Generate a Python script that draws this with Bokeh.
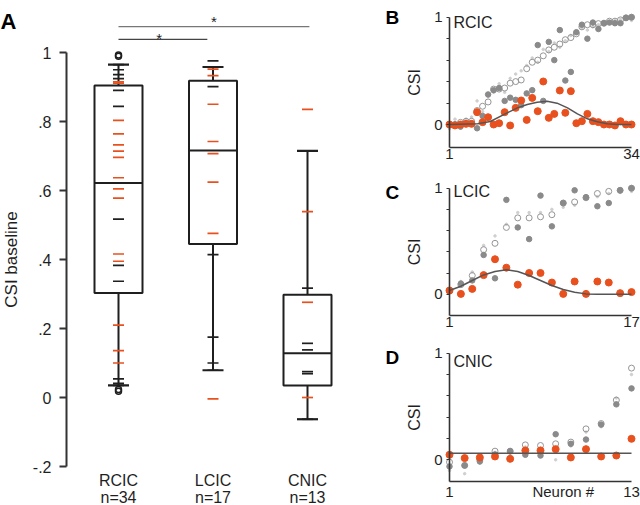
from bokeh.plotting import figure
from bokeh.models import ColumnDataSource, FixedTicker, Range1d
from bokeh.layouts import row, column
from bokeh.embed import file_html
from bokeh.resources import INLINE
from bokeh.core.properties import value

FONT = "Liberation Sans"
ORANGE = "#e8501e"
INK = "#1f1f1f"
AXIS = "#333333"
GRAY_FILL = "#8a8a8a"
GRAY_OPEN = "#959595"
GRAY_LIGHT = "#cfcfcf"
FIT = "#555555"

# ---------------- Panel A data ----------------
groups = ["RCIC", "LCIC", "CNIC"]
group_n = ["n=34", "n=17", "n=13"]
box_q1 = [0.303, 0.445, 0.035]
box_med = [0.622, 0.716, 0.128]
box_q3 = [0.904, 0.918, 0.298]
whisk_hi = [0.965, 0.958, 0.715]
whisk_lo = [0.035, 0.079, -0.063]

rcic_vals = [0.965, 0.950, 0.936, 0.924, 0.915, 0.911, 0.890, 0.844, 0.803, 0.764,
             0.732, 0.714, 0.696, 0.637, 0.605, 0.578, 0.517, 0.416, 0.395, 0.383,
             0.337, 0.210, 0.136, 0.100, 0.054, 0.041, 0.035]
rcic_kind = ["k", "k", "k", "k", "o", "o", "k", "k", "o", "o",
             "o", "o", "o", "o", "o", "o", "k", "o", "o", "k",
             "k", "o", "o", "o", "k", "k", "k"]
rcic_outliers = [0.993, 0.989, 0.023, 0.018]

lcic_vals = [0.976, 0.958, 0.952, 0.933, 0.901, 0.850, 0.742, 0.707, 0.624, 0.476,
             0.414, 0.175, 0.100, 0.079, -0.004]
lcic_kind = ["k", "k", "o", "o", "k", "o", "o", "o", "o", "o",
             "k", "k", "k", "k", "o"]

cnic_vals = [0.835, 0.715, 0.539, 0.317, 0.276, 0.157, 0.138, 0.075, 0.069, 0.000, -0.063]
cnic_kind = ["o", "k", "o", "k", "o", "k", "k", "k", "k", "o", "k"]

a_ticks = [-0.2, 0, 0.2, 0.4, 0.6, 0.8, 1]
a_tick_labels = ["-.2", "0", ".2", ".4", ".6", ".8", "1"]

sig_pairs = [(0, 1), (0, 2)]
sig_y = [1.038, 1.075]
star_y = [1.053, 1.102]

# ---------------- Panels B-D data ----------------
b_orange = [0.0, -0.009, 0.0, 0.006, 0.006, 0.115, 0.022, 0.068, 0.0, 0.012,
            0.115, -0.009, 0.155, 0.224, 0.043, 0.248, 0.124, 0.401, 0.062, 0.099,
            0.317, 0.109, 0.311, 0.012, 0.031, 0.099, 0.031, 0.022, 0.0, 0.0,
            -0.009, 0.031, 0.0, 0.0]
b_open = [0.0, 0.0, 0.02, 0.03, 0.03, 0.13, 0.17, 0.21, 0.33, 0.33,
          0.34, 0.385, 0.40, 0.415, 0.52, 0.58, 0.60, 0.64, 0.695, 0.72,
          0.75, 0.79, 0.81, 0.845, 0.91, 0.93, 0.93, 0.94, 0.944, 0.963,
          0.963, 0.975, 0.994, 1.0]
b_filled = [0.0, 0.0, -0.02, 0.01, 0.01, -0.035, 0.08, 0.28, 0.32, 0.34,
            0.22, 0.25, 0.23, 0.18, 0.29, 0.32, 0.74, 0.22, 0.77, 0.60,
            0.88, 0.41, 0.49, 0.86, 0.93, 0.80, 0.95, 0.89, 0.944, 0.95,
            0.944, 0.944, 0.994, 1.0]
b_light = [-0.04, 0.05, -0.03, 0.05, 0.07, 0.22, 0.12, 0.26, 0.30, 0.38,
           0.30, 0.43, 0.47, 0.50, 0.55, 0.62, 0.58, 0.70, 0.68, 0.76,
           0.72, 0.78, 0.83, 0.87, 0.90, 0.88, 0.91, 0.93, 0.95, 0.94,
           0.97, 0.98, 0.99, 0.97]
b_fit_x = [1, 6.1, 8.4, 11.1, 13.3, 15.1, 16.9, 18.7, 20.5, 22.4, 24.2, 26.0, 27.8, 29.6, 31.5, 34]
b_fit_y = [0.0, 0.006, 0.028, 0.099, 0.155, 0.186, 0.208, 0.217, 0.199, 0.155, 0.099, 0.053, 0.025, 0.006, 0.0, 0.0]

c_orange = [0.035, 0.003, 0.05, 0.18, 0.33, 0.25, 0.09, 0.20, 0.20, 0.11,
            0.003, 0.12, 0.003, 0.12, 0.11, 0.01, 0.02]
c_open = [0.03, 0.09, 0.176, 0.42, 0.48, 0.63, 0.72, 0.72, 0.73, 0.75,
          0.86, 0.87, 0.91, 0.95, 0.97, 0.98, 1.0]
c_filled = [0.03, 0.10, 0.13, 0.37, 0.15, 0.89, 0.63, 0.52, 0.93, 0.64,
            0.86, 0.98, 0.915, 0.83, 0.86, 0.98, 1.0]
c_light = [0.02, 0.12, 0.21, 0.46, 0.55, 0.66, 0.77, 0.77, 0.77, 0.80,
           0.82, 0.84, 0.90, 0.92, 0.95, 0.96, 0.97]
c_fit_x = [1, 2, 3, 4, 5, 6, 7, 8, 9, 10, 11, 12, 13, 14, 17]
c_fit_y = [0.035, 0.075, 0.129, 0.182, 0.214, 0.230, 0.214, 0.176, 0.129, 0.082, 0.044, 0.019, 0.003, 0.0, 0.0]

d_orange = [0.047, 0.016, 0.022, 0.031, 0.009, 0.0875, 0.0875, 0.10, 0.022, 0.10,
            0.031, 0.04, 0.197]
d_open = [-0.022, -0.053, 0.0, 0.081, 0.081, 0.14, 0.134, 0.15, 0.166, 0.29,
          0.34, 0.56, 0.86]
d_filled = [-0.0625, -0.053, -0.016, 0.05, 0.081, 0.047, 0.04, 0.24, 0.15, 0.19,
            0.33, 0.52, 0.67]
d_light = [-0.10, -0.13, -0.03, 0.07, 0.06, 0.12, 0.11, 0.0, 0.13, 0.26,
           0.31, 0.58, 0.80]
d_fit_level = 0.0625


def bare_figure(w, h, xr, yr):
    p = figure(width=w, height=h, x_range=Range1d(*xr), y_range=Range1d(*yr),
               output_backend="svg", toolbar_location=None,
               min_border_left=0, min_border_right=0, min_border_top=0, min_border_bottom=0)
    p.outline_line_color = None
    p.grid.visible = False
    return p


# ---------------- Panel A ----------------
A_W, A_H = 384, 505
A_PPX, A_PPY = 94.5, 345.0
A_CAT0_PX, A_ONE_PX, A_AXIS_PX = 118.0, 52.0, 66.0
ax0 = 1 - A_CAT0_PX / A_PPX
ay1 = 1 + A_ONE_PX / A_PPY


def ax_of(px):
    return ax0 + px / A_PPX


def ay_of(py):
    return ay1 - py / A_PPY


pA = bare_figure(A_W, A_H, (ax0, ax0 + A_W / A_PPX), (ay1 - A_H / A_PPY, ay1))
pA.xaxis.visible = False

ya = pA.yaxis[0]
ya.fixed_location = ax_of(A_AXIS_PX)
ya.ticker = FixedTicker(ticks=a_ticks)
ya.major_label_overrides = dict(zip(a_ticks, a_tick_labels))
ya.bounds = (-0.2, 1)
ya.axis_label = "CSI baseline"
ya.axis_label_text_font = FONT
ya.axis_label_text_font_size = "17px"
ya.axis_label_text_font_style = "normal"
ya.axis_label_text_color = INK
ya.axis_label_standoff = 9
ya.major_label_text_font = FONT
ya.major_label_text_font_size = "16px"
ya.major_label_text_color = INK
ya.major_label_standoff = 8
ya.axis_line_color = AXIS
ya.axis_line_width = 2
ya.major_tick_line_color = AXIS
ya.major_tick_line_width = 2
ya.major_tick_out = 7
ya.major_tick_in = 0
ya.minor_tick_line_color = None

xs = [i + 1 for i in range(len(groups))]
BW = 24.0 / A_PPX
CW = 10.5 / A_PPX
DW = 5.5 / A_PPX

pA.quad(left=[x - BW for x in xs], right=[x + BW for x in xs], bottom=box_q1, top=box_q3,
        fill_color="white", line_color=INK, line_width=2)
pA.segment(x0=xs, y0=box_q3, x1=xs, y1=whisk_hi, line_color=INK, line_width=2)
pA.segment(x0=xs, y0=box_q1, x1=xs, y1=whisk_lo, line_color=INK, line_width=2)

dash_x0, dash_x1, dash_y, dash_c = [], [], [], []
for gx, vals, kinds in zip(xs, [rcic_vals, lcic_vals, cnic_vals], [rcic_kind, lcic_kind, cnic_kind]):
    for v, k in zip(vals, kinds):
        dash_x0.append(gx - DW)
        dash_x1.append(gx + DW)
        dash_y.append(v)
        dash_c.append(ORANGE if k == "o" else INK)
dsrc = ColumnDataSource(dict(x0=dash_x0, x1=dash_x1, y=dash_y, c=dash_c))
pA.segment(x0="x0", y0="y", x1="x1", y1="y", line_color="c", line_width=1.7, source=dsrc)

pA.segment(x0=[x - CW for x in xs], y0=whisk_hi, x1=[x + CW for x in xs], y1=whisk_hi,
           line_color=INK, line_width=2.2)
pA.segment(x0=[x - CW for x in xs], y0=whisk_lo, x1=[x + CW for x in xs], y1=whisk_lo,
           line_color=INK, line_width=2.2)
pA.segment(x0=[x - BW for x in xs], y0=box_med, x1=[x + BW for x in xs], y1=box_med,
           line_color=INK, line_width=2)
pA.scatter(x=[xs[0]] * len(rcic_outliers), y=rcic_outliers, marker="circle", size=6,
           fill_color=None, line_color=INK, line_width=1.5)

# significance bars
sig_end_adj = [-0.06, 0.02]
star_dx = [-0.04, 0.0]
sig_colors = ["#444444", "#777777"]
for (i, j), sy, sty, adj, sdx, sc in zip(sig_pairs, sig_y, star_y, sig_end_adj, star_dx, sig_colors):
    x0, x1 = xs[i], xs[j] + adj
    pA.line(x=[x0, x1], y=[sy, sy], line_color=sc, line_width=1.3)
    pA.text(x=[(x0 + x1) / 2 + sdx], y=[sty - 4.0 / A_PPY], text=["*"], text_align="center",
            text_baseline="middle", text_font=value(FONT), text_font_size="15px",
            text_color=INK)

# category labels
pA.text(x=xs, y=[-0.2406] * len(xs), text=groups, text_align="center", text_baseline="middle",
        text_font=value(FONT), text_font_size="16px", text_color=INK)
pA.text(x=xs, y=[-0.2899] * len(xs), text=group_n, text_align="center", text_baseline="middle",
        text_font=value(FONT), text_font_size="16px", text_color=INK)

pA.text(x=[ax_of(0)], y=[ay_of(21)], text=["A"], text_align="left", text_baseline="alphabetic",
        text_font=value(FONT), text_font_size="22px", text_font_style="bold", text_color="black")


# ---------------- Panels B-D ----------------
P_W = 256
AXIS_X = 65.0     # fig x of the y axis (neuron 1)
END_X = 247.0     # fig x of the last neuron


def make_panel(letter, name, orange, open_, filled, light, height, t1, t0, tb, name_y,
               letter_base, fit_x=None, fit_y=None, fit_level=None, x_ticks=None, x_over=None):
    n = len(orange)
    idx = list(range(1, n + 1))
    ppx = (END_X - AXIS_X) / (n - 1)
    x0 = 1 - AXIS_X / ppx
    ppy = t0 - t1
    y1 = 1 + t1 / ppy
    ybot = -(tb - t0) / ppy
    p = bare_figure(P_W, height, (x0, x0 + P_W / ppx), (y1 - height / ppy, y1))

    yax = p.yaxis[0]
    yax.fixed_location = 1
    yt = [0, 0.2, 0.4, 0.6, 0.8, 1]
    yax.ticker = FixedTicker(ticks=yt)
    yax.major_label_overrides = {0: "0", 0.2: "", 0.4: "", 0.6: "", 0.8: "", 1: "1"}
    yax.bounds = (ybot, 1)
    yax.axis_label = "CSI"
    yax.axis_label_text_font = FONT
    yax.axis_label_text_font_size = "16px"
    yax.axis_label_text_font_style = "normal"
    yax.axis_label_text_color = INK
    yax.axis_label_standoff = 8
    yax.major_label_text_font = FONT
    yax.major_label_text_font_size = "15px"
    yax.major_label_text_color = INK
    yax.major_label_standoff = 4
    yax.axis_line_color = AXIS
    yax.axis_line_width = 1.6
    yax.major_tick_line_color = AXIS
    yax.major_tick_line_width = 1
    yax.major_tick_out = 3
    yax.major_tick_in = 0
    yax.minor_tick_line_color = None

    xax = p.xaxis[0]
    xax.fixed_location = ybot
    if x_ticks is None:
        x_ticks = [1, n]
    xax.ticker = FixedTicker(ticks=x_ticks)
    if x_over:
        xax.major_label_overrides = x_over
    xax.bounds = (1, n)
    xax.major_label_text_font = FONT
    xax.major_label_text_font_size = "15px"
    xax.major_label_text_color = INK
    xax.major_label_standoff = 1
    xax.axis_line_color = AXIS
    xax.axis_line_width = 1.6
    xax.major_tick_line_color = None
    xax.major_tick_out = 0
    xax.major_tick_in = 0
    xax.minor_tick_line_color = None

    p.scatter(x=idx, y=light, marker="circle", size=2.5, color=GRAY_LIGHT)
    p.scatter(x=idx, y=open_, marker="circle", size=6, fill_color=None, line_color=GRAY_OPEN,
              line_width=1)
    p.scatter(x=idx, y=filled, marker="circle", size=5.5, color=GRAY_FILL)
    p.scatter(x=idx, y=orange, marker="circle", size=7, color=ORANGE)
    if fit_x is not None:
        p.line(x=fit_x, y=fit_y, line_color=FIT, line_width=1.5)
    if fit_level is not None:
        p.line(x=[1, n], y=[fit_level, fit_level], line_color=FIT, line_width=1.5)

    p.text(x=[1 + 4.0 / ppx], y=[name_y], text=[name], text_align="left", text_baseline="middle",
           text_font=value(FONT), text_font_size="16px", text_color=INK)
    p.text(x=[x0 + 1.0 / ppx], y=[y1 - letter_base / ppy], text=[letter], text_align="left",
           text_baseline="alphabetic", text_font=value(FONT), text_font_size="19px",
           text_font_style="bold", text_color="black")
    return p


pB = make_panel("B", "RCIC", b_orange, b_open, b_filled, b_light, 168, 16.7, 124.0, 147.0, 0.955, 17.0,
                fit_x=b_fit_x, fit_y=b_fit_y)
pC = make_panel("C", "LCIC", c_orange, c_open, c_filled, c_light, 166, 19.7, 125.7, 147.0, 0.967, 23.7,
                fit_x=c_fit_x, fit_y=c_fit_y)
pD = make_panel("D", "CNIC", d_orange, d_open, d_filled, d_light, 171, 18.7, 125.3, 147.0, 0.924, 22.7,
                fit_level=d_fit_level, x_ticks=[1, 8.5, 13], x_over={8.5: "Neuron #"})

layout = row(pA, column(pB, pC, pD))
open("out.html", "w").write(file_html(layout, INLINE))
